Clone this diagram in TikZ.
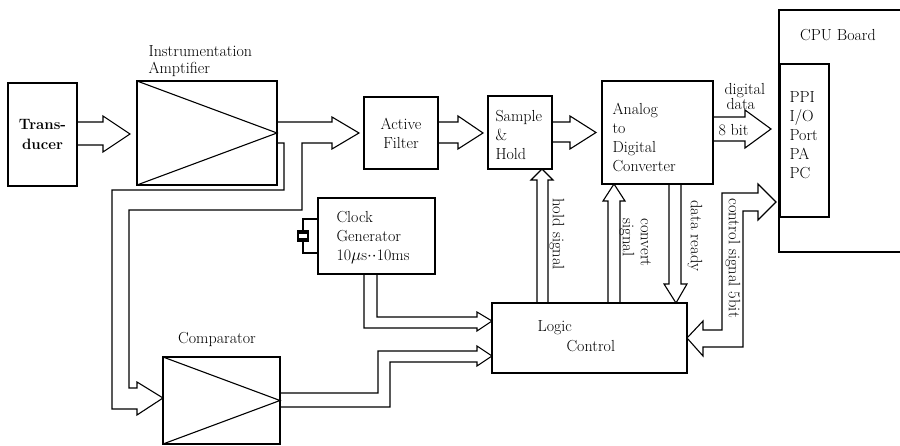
\documentclass[tikz,border=0pt]{standalone}
\usetikzlibrary{calc}
\begin{document}
\begin{tikzpicture}[x=1pt,y=-1pt, line width=1.1pt, line join=miter,
  box/.style={draw, inner sep=0pt, outer sep=0pt},
  txt/.style={font=\fontsize{16}{19}\selectfont, inner sep=0pt, align=left},
  rtxt/.style={font=\fontsize{16.5}{18}\selectfont, inner sep=0pt, rotate=-90, anchor=west}]
\useasboundingbox (0,0) rectangle (900,446);
% blocks
\node[box, txt, align=center, font=\fontsize{15}{20}\selectfont\bfseries, minimum width=69pt, minimum height=103pt] (trans) at (42.5,134.5) {Trans-\\ducer};
\node[box, minimum width=140pt, minimum height=104pt] (amp) at (207,133) {};
\draw (amp.north west) -- (amp.east) -- (amp.south west);
\node[txt, anchor=west, font=\fontsize{16}{17}\selectfont] (ampT) at (148,61) {Instrumentation\\Amptifier};
\node[box, txt, align=center, minimum width=74pt, minimum height=72pt] (af) at (401,133) {Active\\Filter};
\node[box, minimum width=64pt, minimum height=73pt] (sh) at (520,132.5) {};
\node[txt, anchor=west] (shT) at (495,135) {Sample\\\&\\Hold};
\node[box, minimum width=111pt, minimum height=103pt] (adc) at (657.5,132.5) {};
\node[txt, anchor=west] (adcT) at (612,137) {Analog\\to\\Digital\\Converter};
\node[box, minimum width=130pt, minimum height=242pt, anchor=north west] (cpu) at (779,10) {};
\node[txt] (cpuT) at (838,35) {CPU Board};
\node[box, minimum width=49pt, minimum height=153pt, anchor=north west] (ppi) at (780,64) {};
\node[txt, anchor=west] (ppiT) at (789,135) {PPI\\I/O\\Port\\PA\\PC};
\node[box, minimum width=117pt, minimum height=76pt] (clk) at (376.5,236) {};
\node[txt, anchor=west] (clkT) at (336,238) {Clock\\Generator\\10$\mu$s$\cdot\cdot$10ms};
\node[box, minimum width=195pt, minimum height=70pt] (logic) at (589.5,338) {};
\node[txt, anchor=west] (logicT1) at (537,328) {Logic};
\node[txt, anchor=west] (logicT2) at (566,346) {Control};
\node[box, minimum width=117pt, minimum height=87pt] (comp) at (221.5,400.5) {};
\draw (comp.north west) -- (comp.east) -- (comp.south west);
\node[txt] (compT) at (217,339) {Comparator};
% labels
\node[txt, anchor=base west] (ddT1) at (724,95) {digital};
\node[txt, anchor=base west] (ddT2) at (726,110) {data};
\node[txt, anchor=base west] (bitT) at (718,136) {8 bit};
\node[rtxt] (holdT) at (557,198) {hold signal};
\node[rtxt] (convT1) at (646,218) {convert};
\node[rtxt] (convT2) at (627,218) {signal};
\node[rtxt] (drT) at (695,200) {data ready};
\node[rtxt] (ctlT) at (733,198) {control signal 5bit};
% crystal
\draw (clk.west |- 0,219) -- (303,219) -- (303,231);
\draw (clk.west |- 0,253) -- (303,253) -- (303,241);
\draw (297,231) -- (309,231);
\draw (297,241) -- (309,241);
\draw (298,233) rectangle (308,239);
% buses
\draw (trans.east |- 0,122) -- (103,122) -- (103,116) -- ($(amp.west)+(-7,1)$) -- (103,152) -- (103,145) -- (trans.east |- 0,145);
\draw (amp.east |- 0,122) -- (332,122) -- (332,117) -- ($(af.west)+(-5,0)$) -- (332,149) -- (332,143) -- (302,143) -- (302,210) -- (129,210) -- (129,388) -- (137,388) -- (137,382) -- (comp.west |- 0,398) -- (137,415) -- (137,409) -- (112,409) -- (112,190) -- (284,190) -- (284,143) -- (amp.east |- 0,143);
\draw (af.east |- 0,122) -- (458,122) -- (458,116) -- ($(sh.west)+(-5,0.5)$) -- (458,149) -- (458,143) -- (af.east |- 0,143);
\draw (sh.east |- 0,122) -- (570,122) -- (570,116) -- ($(adc.west)+(-6,0)$) -- (570,149) -- (570,142) -- (sh.east |- 0,142);
\draw (adc.east |- 0,117) -- (745,117) -- (745,110) -- ($(ppi.west)+(-9,-11.5)$) -- (745,148) -- (745,141) -- (adc.east |- 0,141);
\draw (logic.north -| 537,0) -- (537,180) -- (531,180) -- (sh.south -| 542,0) -- (553,180) -- (548,180) -- (logic.north -| 548,0);
\draw (logic.north -| 608,0) -- (608,201) -- (603,201) -- (adc.south -| 614,0) -- (625,201) -- (620,201) -- (logic.north -| 620,0);
\draw (adc.south -| 669,0) -- (669,284) -- (664,284) -- (logic.north -| 676,0) -- (687,284) -- (681,284) -- (adc.south -| 681,0);
\draw ($(ppi.west)+(-4,61.5)$) -- (758,184) -- (758,193) -- (722,193) -- (722,330) -- (703,330) -- (703,321) -- (logic.east |- 0,338) -- (703,356) -- (703,347) -- (743,347) -- (743,211) -- (758,211) -- (758,220) -- cycle;
\draw (clk.south -| 377,0) -- (377,317) -- (477,317) -- (477,312) -- (logic.west |- 0,321) -- (477,331) -- (477,328) -- (364,328) -- (clk.south -| 364,0);
\draw (comp.east |- 0,393) -- (378,393) -- (378,351) -- (477,351) -- (477,346) -- (logic.west |- 0,356) -- (477,366) -- (477,362) -- (390,362) -- (390,407) -- (comp.east |- 0,407);
\end{tikzpicture}
\end{document}
